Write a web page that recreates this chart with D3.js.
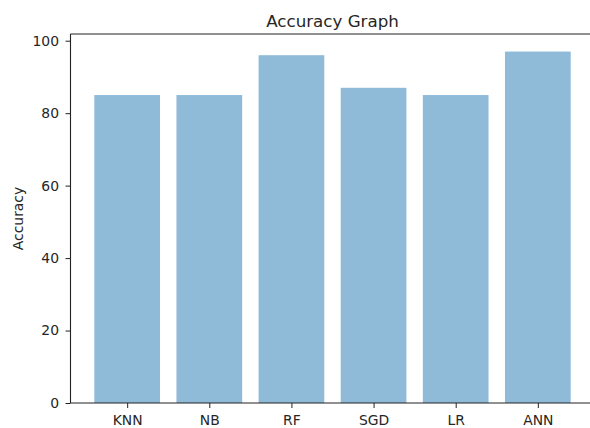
<!DOCTYPE html>
<html><head><meta charset="utf-8">
<script src="https://cdn.jsdelivr.net/npm/d3@7"></script>
<style>
html,body{margin:0;padding:0;background:#fff;}
text{font-family:"DejaVu Sans",sans-serif;fill:#262626;}
</style></head>
<body><svg id="c" width="590" height="428"></svg>
<script>
const categories = ["KNN","NB","RF","SGD","LR","ANN"];
const accuracy = [85, 85, 96, 87, 85, 97];
const yTicks = [0, 20, 40, 60, 80, 100];
const title = "Accuracy Graph";
const yLabel = "Accuracy";

(function(){
const svg = d3.select("#c");
const mLeft = 70.5, mRight = 594.5, mTop = 34, mBottom = 403;
const barWidth = 0.8;
const n = categories.length;
const xMin = -barWidth/2 - 0.05*(n - 1 + barWidth), xMax = n - 1 + barWidth/2 + 0.05*(n - 1 + barWidth);
const x = d3.scaleLinear().domain([xMin, xMax]).range([mLeft, mRight]);
const yMax = d3.max(accuracy) * 1.05;
const y = d3.scaleLinear().domain([0, yMax]).range([mBottom, mTop]);

// bars
svg.append("g").selectAll("rect").data(accuracy).join("rect")
  .attr("x", (d,i) => x(i - barWidth/2))
  .attr("width", (d,i) => x(i + barWidth/2) - x(i - barWidth/2))
  .attr("y", d => y(d))
  .attr("height", d => y(0) - y(d))
  .attr("fill", "rgb(143,187,217)");

// axes
const yAxis = d3.axisLeft(y).tickValues(yTicks).tickSize(5).tickPadding(6.5).tickFormat(d3.format("d"));
const gy = svg.append("g").attr("transform", `translate(${mLeft},0)`).call(yAxis);
const xAxis = d3.axisBottom(x).tickValues(d3.range(n)).tickSize(5).tickPadding(7).tickFormat(i => categories[i]);
const gx = svg.append("g").attr("transform", `translate(0,${mBottom})`).call(xAxis);
[gx, gy].forEach(g => {
  g.selectAll("text").style("font-size", "13.9px").attr("fill", "#262626");
  g.selectAll("line").attr("stroke", "#222").attr("stroke-width", 1);
  g.select(".domain").remove();
});

// spines
const spine = (x1,y1,x2,y2) => svg.append("line").attr("x1", x1).attr("x2", x2).attr("y1", y1).attr("y2", y2).attr("stroke", "#222").attr("stroke-width", 1.1);
spine(mLeft, mTop, mLeft, mBottom);
spine(mLeft, mBottom, mRight, mBottom);
spine(mLeft, mTop, mRight, mTop);
spine(mRight, mTop, mRight, mBottom);

// title
svg.append("text").attr("x", (mLeft + mRight) / 2).attr("y", 26.5).attr("text-anchor", "middle")
  .style("font-size", "16.7px").text(title);

// y label
svg.append("text").attr("transform", `translate(22.5,${(mTop + mBottom) / 2}) rotate(-90)`)
  .attr("text-anchor", "middle").style("font-size", "13.9px").text(yLabel);
})();
</script></body></html>
